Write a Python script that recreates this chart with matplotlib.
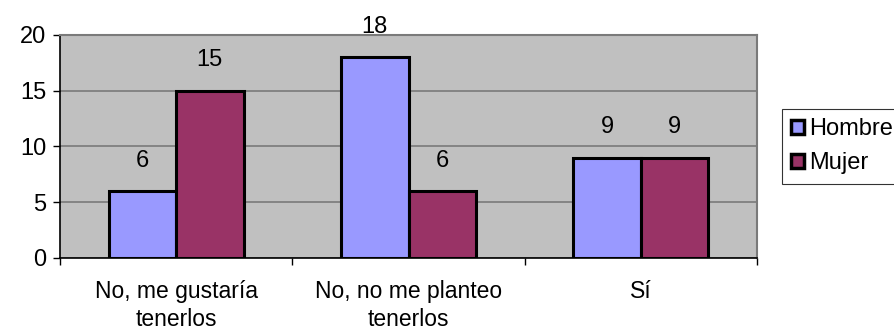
import numpy as np
import matplotlib.pyplot as plt
from matplotlib.patches import Patch

plt.rcParams['font.family'] = ['Liberation Sans', 'DejaVu Sans']

# respuestas por sexo
categorias = ["No, me gustaría\ntenerlos", "No, no me planteo\ntenerlos", "Sí"]
hombre = [6, 18, 9]
mujer = [15, 6, 9]
series = ["Hombre", "Mujer"]
colores = ["#9999FF", "#993366"]

fig = plt.figure(figsize=(8.95, 3.31), dpi=100)
ax = fig.add_axes([60 / 895, 1 - 258 / 331, (757 - 60) / 895, (258 - 35) / 331])
ax.set_facecolor("#C0C0C0")

x = np.arange(len(categorias))
w = 0.29
for vals, off, col in [(hombre, -w / 2, colores[0]), (mujer, w / 2, colores[1])]:
    bars = ax.bar(x + off, vals, w, color=col, edgecolor="black", linewidth=2.2, zorder=3)
    for b, v in zip(bars, vals):
        ax.annotate(str(v), (b.get_x() + b.get_width() / 2, v), xytext=(0, 14),
                    textcoords="offset points", ha="center", va="bottom", fontsize=17)

ax.set_ylim(0, 20)
ax.set_xlim(-0.5, 2.5)
ax.set_yticks([0, 5, 10, 15, 20])
ax.yaxis.grid(True, color="#7a7a7a", linewidth=1.2, zorder=1)
ax.set_axisbelow(True)
ax.tick_params(axis="y", labelsize=17, length=5, width=1, pad=5, direction="out")

ax.set_xticks(x)
ax.set_xticklabels(categorias, fontsize=16.5, linespacing=1.25)
ax.set_xticks([-0.5, 0.5, 1.5, 2.5], minor=True)
ax.tick_params(axis="x", which="major", length=0, pad=16)
ax.tick_params(axis="x", which="minor", length=5, width=1, direction="out")

for s in ["left", "bottom"]:
    ax.spines[s].set_color("black")
    ax.spines[s].set_linewidth(1.2)
for s in ["top", "right"]:
    ax.spines[s].set_color("#7a7a7a")
    ax.spines[s].set_linewidth(1.5)

handles = [Patch(facecolor=c, edgecolor="black", linewidth=2.5, label=n) for n, c in zip(series, colores)]
leg = fig.legend(handles=handles, loc="upper left", bbox_to_anchor=(782 / 895, 1 - 109 / 331),
                 fontsize=17, frameon=True, fancybox=False, handlelength=0.55, handleheight=0.55,
                 handletextpad=0.2, borderpad=0.4, labelspacing=0.5, borderaxespad=0)
leg.get_frame().set_edgecolor("black")
leg.get_frame().set_linewidth(0.8)

fig.savefig("out.png", dpi=100)
